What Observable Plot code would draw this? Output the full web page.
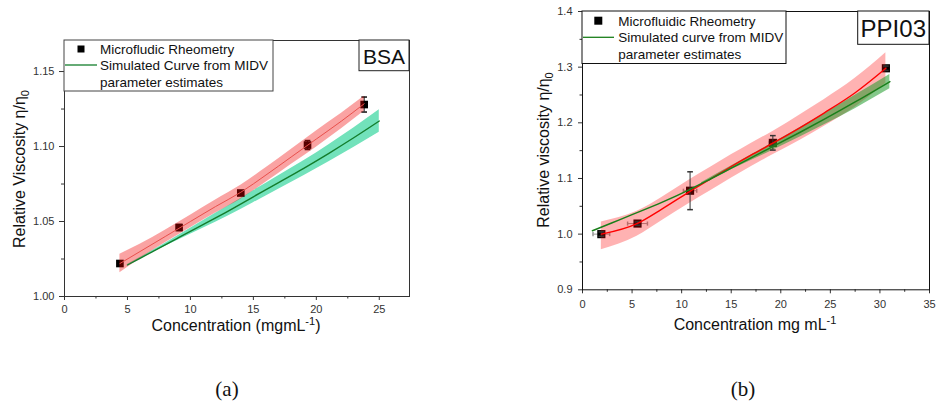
<!DOCTYPE html>
<html><head><meta charset="utf-8">
<script src="https://cdn.jsdelivr.net/npm/d3@7"></script>
<script src="https://cdn.jsdelivr.net/npm/@observablehq/plot@0.6"></script>
<style>
html,body{margin:0;padding:0;background:#fff;}
body{width:937px;height:406px;position:relative;overflow:hidden;font-family:"Liberation Sans",Arial,sans-serif;}
.panel{position:absolute;top:0;}
.cap{position:absolute;width:60px;text-align:center;font-family:"Liberation Serif","DejaVu Serif",serif;font-size:21px;line-height:24px;color:#111;}
</style></head><body>
<div id="a" class="panel" style="left:0px"></div>
<div id="b" class="panel" style="left:470px"></div>
<div class="cap" style="left:197px;top:377px">(a)</div>
<div class="cap" style="left:713px;top:377px">(b)</div>
<script>
// ---------- Panel (a): BSA ----------
const bsaConc = [4.4, 9.1, 14.0, 19.3, 23.8];
const bsaVisc = [1.022, 1.046, 1.069, 1.101, 1.128];
const bsaErr  = [0.0015, 0.002, 0.0015, 0.003, 0.005];

const bsaFitX  = [4.4, 6, 8, 10, 12, 14, 16, 18, 20, 22, 23.8];
const bsaFitY  = [1.022, 1.030, 1.040, 1.050, 1.060, 1.0695, 1.081, 1.093, 1.105, 1.117, 1.1285];
const bsaFitLo = [1.0158, 1.0252, 1.0358, 1.0458, 1.0556, 1.0649, 1.0762, 1.0880, 1.0996, 1.1118, 1.1235];
const bsaFitHi = [1.0282, 1.0348, 1.0442, 1.0542, 1.0644, 1.0741, 1.0858, 1.0980, 1.1104, 1.1222, 1.1335];

const bsaSimX  = [5, 7, 9, 11, 13, 15, 17, 19, 21, 23, 25];
const bsaSimY  = [1.021, 1.030, 1.039, 1.048, 1.057, 1.0665, 1.076, 1.0855, 1.0955, 1.106, 1.117];
const bsaSimLo = [1.0207, 1.0293, 1.0375, 1.0455, 1.0537, 1.0625, 1.0715, 1.0805, 1.0898, 1.0995, 1.1095];
const bsaSimHi = [1.0213, 1.0307, 1.0405, 1.0505, 1.0603, 1.0705, 1.0805, 1.0905, 1.1012, 1.1125, 1.1245];

const bsaXTicks = [0, 5, 10, 15, 20, 25];
const bsaXMinor = [2.5, 7.5, 12.5, 17.5, 22.5];
const bsaYTicks = [1.00, 1.05, 1.10, 1.15];
const bsaYMinor = [1.025, 1.075, 1.125];

// ---------- Panel (b): PPI03 ----------
const ppiConc = [1.9, 5.55, 10.85, 19.2, 30.6];
const ppiVisc = [1.000, 1.019, 1.078, 1.164, 1.298];
const ppiYErr = [0.004, 0.003, 0.034, 0.013, 0.004];
const ppiXErr = [0.84, 1.0, 0.67, 0.35, 0.3];

const ppiFitX  = [1.9, 5.5, 8, 10.85, 13, 15, 17, 19.2, 22, 24.4, 27.5, 30.6];
const ppiFitY  = [1.000, 1.019, 1.045, 1.077, 1.100, 1.1215, 1.142, 1.1635, 1.192, 1.218, 1.254, 1.298];
const ppiFitLo = [0.972, 0.996, 1.024, 1.056, 1.079, 1.1005, 1.121, 1.1425, 1.169, 1.194, 1.228, 1.271];
const ppiFitHi = [1.022, 1.041, 1.066, 1.098, 1.121, 1.1425, 1.163, 1.1845, 1.215, 1.242, 1.280, 1.326];

const ppiSimX  = [1, 3, 5, 8, 10.8, 13, 15, 17, 19, 22, 24.4, 27.5, 31];
const ppiSimY  = [1.006, 1.0205, 1.035, 1.057, 1.080, 1.100, 1.1185, 1.137, 1.1555, 1.1835, 1.2065, 1.2375, 1.274];
const ppiBandX  = [12, 15, 19, 22, 24.4, 27.5, 31];
const ppiBandLo = [1.0895, 1.1155, 1.149, 1.175, 1.1965, 1.2255, 1.261];
const ppiBandHi = [1.0925, 1.1225, 1.162, 1.192, 1.2165, 1.2495, 1.287];

const ppiXTicks = [0, 5, 10, 15, 20, 25, 30, 35];
const ppiXMinor = [2.5, 7.5, 12.5, 17.5, 22.5, 27.5, 32.5];
const ppiYTicks = [0.9, 1.0, 1.1, 1.2, 1.3, 1.4];
const ppiYMinor = [0.95, 1.05, 1.15, 1.25, 1.35];

// ---------- helpers ----------
const FONT = "Liberation Sans, Arial, sans-serif";
const zip = (xs, cols) => xs.map((x, i) => { const o = {x}; for (const k in cols) o[k] = cols[k][i]; return o; });
const hcap = {draw(ctx, size) { const w = Math.sqrt(size) / 2; ctx.moveTo(-w, 0); ctx.lineTo(w, 0); }};
const vcap = {draw(ctx, size) { const w = Math.sqrt(size) / 2; ctx.moveTo(0, -w); ctx.lineTo(0, w); }};

const bsaPts = zip(bsaConc, {y: bsaVisc, e: bsaErr});
const bsaFit = zip(bsaFitX, {y: bsaFitY, lo: bsaFitLo, hi: bsaFitHi});
const bsaSim = zip(bsaSimX, {y: bsaSimY, lo: bsaSimLo, hi: bsaSimHi});
const ppiPts = zip(ppiConc, {y: ppiVisc, e: ppiYErr, ex: ppiXErr});
const ppiFit = zip(ppiFitX, {y: ppiFitY, lo: ppiFitLo, hi: ppiFitHi});
const ppiSim = zip(ppiSimX, {y: ppiSimY});
const ppiBand = zip(ppiBandX, {lo: ppiBandLo, hi: ppiBandHi});

// ---------- Plot (a) ----------
const svgA = Plot.plot({
  width: 420, height: 350,
  marginLeft: 64, marginTop: 40, marginRight: 11, marginBottom: 54,
  x: {domain: [0, 27.4]},
  y: {domain: [1.0, 1.1707]},
  style: {fontFamily: FONT, fontSize: "11px", color: "#333", background: "white"},
  marks: [
    Plot.areaY(bsaSim, {x: "x", y1: "lo", y2: "hi", fill: "#72e2bb", curve: "monotone-x"}),
    Plot.ruleX(bsaPts, {x: "x", y1: d => d.y - d.e, y2: d => d.y + d.e, stroke: "#111"}),
    Plot.dot(bsaPts, {x: "x", y: d => d.y - d.e, symbol: hcap, r: 3.2, stroke: "#111", fill: "none"}),
    Plot.dot(bsaPts, {x: "x", y: d => d.y + d.e, symbol: hcap, r: 3.2, stroke: "#111", fill: "none"}),
    Plot.dot(bsaPts, {x: "x", y: "y", symbol: "square", r: 4.3, fill: "black", stroke: "none"}),
    Plot.areaY(bsaFit, {x: "x", y1: "lo", y2: "hi", fill: "#f00000", fillOpacity: 0.36, curve: "monotone-x"}),
    Plot.lineY(bsaFit, {x: "x", y: "y", stroke: "#e8504c", strokeWidth: 1, curve: "monotone-x"}),
    Plot.lineY(bsaSim, {x: "x", y: "y", stroke: "#137d2c", strokeWidth: 1.4, curve: "monotone-x"}),
    Plot.axisX({ticks: bsaXTicks, tickSize: 4, tickPadding: 5, label: null, fontSize: 11}),
    Plot.axisX({ticks: bsaXMinor, tickSize: 2.5, tickFormat: () => "", label: null}),
    Plot.axisY({ticks: bsaYTicks, tickSize: 5, tickPadding: 5, tickFormat: d3.format(".2f"), label: null, fontSize: 11}),
    Plot.axisY({ticks: bsaYMinor, tickSize: 3, tickFormat: () => "", label: null}),
    Plot.frame({stroke: "#333"})
  ]
});
document.getElementById("a").append(svgA);
{
  const g = d3.select(svgA).append("g").attr("font-family", FONT).attr("fill", "#111").attr("text-anchor", "start");
  g.append("rect").attr("x", 64).attr("y", 40).attr("width", 209).attr("height", 51)
    .attr("fill", "white").attr("stroke", "#444");
  g.append("rect").attr("x", 77.5).attr("y", 45.5).attr("width", 7).attr("height", 7).attr("fill", "black");
  g.append("line").attr("x1", 65).attr("x2", 97).attr("y1", 65).attr("y2", 65)
    .attr("stroke", "#137d2c").attr("stroke-width", 1.3);
  const lt = ["Microfludic Rheometry", "Simulated Curve from MIDV", "parameter estimates"];
  [53.5, 70, 86.7].forEach((y, i) => g.append("text").attr("x", 100).attr("y", y)
    .attr("text-anchor", "start").attr("font-size", 13.5).text(lt[i]));
  g.append("rect").attr("x", 359).attr("y", 40).attr("width", 50).attr("height", 30.7)
    .attr("fill", "white").attr("stroke", "#222");
  g.append("text").attr("x", 384).attr("y", 63.5).attr("text-anchor", "middle")
    .attr("font-size", 21).text("BSA");
  const yt = g.append("text").attr("transform", "translate(19,169) rotate(-90)")
    .attr("text-anchor", "middle").attr("font-size", 16).attr("dy", "0.35em");
  yt.append("tspan").text("Relative Viscosity η/η");
  yt.append("tspan").attr("font-size", 11).attr("dy", 4).text("0");
  const xt = g.append("text").attr("x", 236).attr("y", 331).attr("text-anchor", "middle").attr("font-size", 16);
  xt.append("tspan").text("Concentration (mgmL");
  xt.append("tspan").attr("font-size", 11).attr("dy", -6).text("-1");
  xt.append("tspan").attr("dy", 6).text(")");
}

// ---------- Plot (b) ----------
const svgB = Plot.plot({
  width: 467, height: 350,
  marginLeft: 112, marginTop: 11, marginRight: 8, marginBottom: 60.7,
  x: {domain: [0, 35]},
  y: {domain: [0.9, 1.4]},
  style: {fontFamily: FONT, fontSize: "11px", color: "#333", background: "white"},
  marks: [
    Plot.ruleY(ppiPts, {y: "y", x1: d => d.x - d.ex, x2: d => d.x + d.ex, stroke: "#9a9a9a"}),
    Plot.dot(ppiPts, {x: d => d.x - d.ex, y: "y", symbol: vcap, r: 2.3, stroke: "#9a9a9a", fill: "none"}),
    Plot.dot(ppiPts, {x: d => d.x + d.ex, y: "y", symbol: vcap, r: 2.3, stroke: "#9a9a9a", fill: "none"}),
    Plot.dot(ppiPts, {x: "x", y: "y", symbol: "square", r: 4.6, fill: "black", stroke: "none"}),
    Plot.areaY(ppiFit, {x: "x", y1: "lo", y2: "hi", fill: "#ff0000", fillOpacity: 0.3, curve: "monotone-x"}),
    Plot.areaY(ppiBand, {x: "x", y1: "lo", y2: "hi", fill: "#1f9a2a", fillOpacity: 0.55, curve: "monotone-x"}),
    Plot.ruleX(ppiPts, {x: "x", y1: d => d.y - d.e, y2: d => d.y + d.e, stroke: "#333"}),
    Plot.dot(ppiPts, {x: "x", y: d => d.y - d.e, symbol: hcap, r: 3.2, stroke: "#333", fill: "none"}),
    Plot.dot(ppiPts, {x: "x", y: d => d.y + d.e, symbol: hcap, r: 3.2, stroke: "#333", fill: "none"}),
    Plot.lineY(ppiFit, {x: "x", y: "y", stroke: "#ff0000", strokeWidth: 1.4, curve: "monotone-x"}),
    Plot.lineY(ppiSim, {x: "x", y: "y", stroke: "#1a7f1a", strokeWidth: 1.5, curve: "monotone-x"}),
    Plot.axisX({ticks: ppiXTicks, tickSize: 4, tickPadding: 6, label: null, fontSize: 11}),
    Plot.axisX({ticks: ppiXMinor, tickSize: 2.5, tickFormat: () => "", label: null}),
    Plot.axisY({ticks: ppiYTicks, tickSize: 4, tickPadding: 6, tickFormat: d3.format(".1f"), label: null, fontSize: 11}),
    Plot.axisY({ticks: ppiYMinor, tickSize: 2.5, tickFormat: () => "", label: null}),
    Plot.frame({stroke: "#111"})
  ]
});
document.getElementById("b").append(svgB);
{
  const g = d3.select(svgB).append("g").attr("font-family", FONT).attr("fill", "#111").attr("text-anchor", "start");
  g.append("rect").attr("x", 112).attr("y", 11).attr("width", 204).attr("height", 52.5)
    .attr("fill", "white").attr("stroke", "#111");
  g.append("rect").attr("x", 124.3).attr("y", 16.7).attr("width", 8).attr("height", 8).attr("fill", "black");
  g.append("line").attr("x1", 113).attr("x2", 144).attr("y1", 37.3).attr("y2", 37.3)
    .attr("stroke", "#1a7f1a").attr("stroke-width", 1.3);
  const lt = ["Microfluidic Rheometry", "Simulated curve from MIDV", "parameter estimates"];
  [25.7, 42.3, 58.6].forEach((y, i) => g.append("text").attr("x", 148.3).attr("y", y)
    .attr("text-anchor", "start").attr("font-size", 13.5).text(lt[i]));
  g.append("rect").attr("x", 387.7).attr("y", 11).attr("width", 71.3).attr("height", 33.3)
    .attr("fill", "white").attr("stroke", "#111");
  g.append("text").attr("x", 423.3).attr("y", 36.5).attr("text-anchor", "middle")
    .attr("font-size", 24).text("PPI03");
  const yt = g.append("text").attr("transform", "translate(73,150) rotate(-90)")
    .attr("text-anchor", "middle").attr("font-size", 16).attr("dy", "0.35em");
  yt.append("tspan").text("Relative viscosity η/η");
  yt.append("tspan").attr("font-size", 11).attr("dy", 4).text("0");
  const xt = g.append("text").attr("x", 285).attr("y", 330).attr("text-anchor", "middle").attr("font-size", 16);
  xt.append("tspan").text("Concentration mg mL");
  xt.append("tspan").attr("font-size", 11).attr("dy", -6).text("-1");
}
</script>
</body></html>
